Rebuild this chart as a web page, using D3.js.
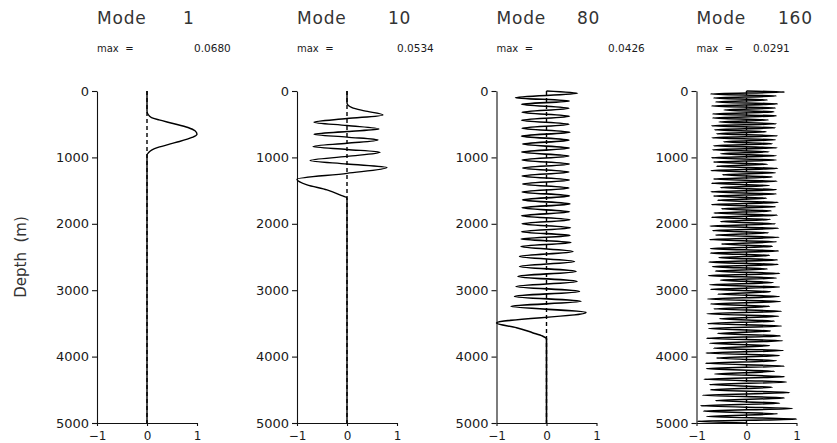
<!DOCTYPE html>
<html><head><meta charset="utf-8">
<script src="https://cdn.jsdelivr.net/npm/d3@7"></script>
<style>
html,body{margin:0;padding:0;background:#fff;}
svg text{font-family:"DejaVu Sans",sans-serif;fill:#1a1a1a;}
</style></head>
<body>
<svg id="chart" width="837" height="443"></svg>
<script>
// ---------------- data ----------------
const modeNumbers = ["1", "10", "80", "160"];
const maxValues = ["0.0680", "0.0534", "0.0426", "0.0291"];
const yTickValues = [0, 1000, 2000, 3000, 4000, 5000];
const xTickValues = [-1, 0, 1];
const xTickLabels = ["\u22121", "0", "1"];

const mode1Depth = [0, 200, 300, 350, 400, 436, 486, 550, 600, 651, 700, 761, 800, 850, 887, 930, 962, 1000, 1100, 5000];
const mode1Amp   = [0, 0, 0, 0.02, 0.09, 0.24, 0.5, 0.82, 0.96, 1.0, 0.9, 0.65, 0.45, 0.22, 0.1, 0.03, 0.0, 0, 0, 0];

const mode10Depth = [0, 150, 180, 250, 300, 360, 415, 470, 520, 571, 611, 651, 694, 737, 787, 837, 880, 922, 985, 1048, 1100, 1153, 1240, 1328, 1413, 1489, 1564, 1614, 1700, 5000];
const mode10Amp   = [0, 0, 0, 0.1, 0.35, 0.72, 0, -0.66, 0, 0.64, 0, -0.66, 0, 0.62, 0, -0.68, 0, 0.66, 0, -0.74, 0, 0.8, 0, -1.0, -0.8, -0.4, -0.14, 0, 0, 0];

const mode80Depth = [0, 35, 100, 150, 200, 260, 320, 380, 440, 500, 560, 620, 680, 740, 800, 860, 920, 980, 1040, 1100, 1160, 1220, 1280, 1340, 1400, 1460, 1520, 1580, 1640, 1700, 1760, 1820, 1880, 1940, 2000, 2060, 2120, 2175, 2230, 2281, 2341, 2416, 2492, 2567, 2642, 2717, 2792, 2868, 2943, 3018, 3093, 3168, 3243, 3334, 3494, 3564, 3640, 3690, 3730, 5000];
const mode80Amp   = [0, 0.62, -0.62, 0.46, -0.50, 0.45, -0.49, 0.46, -0.50, 0.45, -0.49, 0.47, -0.50, 0.45, -0.48, 0.46, -0.50, 0.45, -0.49, 0.46, -0.48, 0.45, -0.49, 0.46, -0.48, 0.45, -0.49, 0.46, -0.48, 0.47, -0.49, 0.46, -0.50, 0.47, -0.49, 0.48, -0.50, 0.47, -0.51, 0.49, -0.51, 0.53, -0.54, 0.56, -0.54, 0.59, -0.57, 0.61, -0.61, 0.66, -0.64, 0.69, -0.71, 0.79, -1.0, -0.6, -0.28, -0.08, 0, 0];

const mode160Depth = [0,
  15, 45, 75, 105, 135, 165, 195, 225, 255, 285, 315, 345, 375, 405, 435, 465, 495, 525, 555, 585, 615, 645, 675, 705, 735, 765, 795, 825, 855, 885, 915, 945, 975,
  1007, 1039, 1071, 1103, 1135, 1167, 1199, 1231, 1263, 1295, 1327, 1359, 1391, 1423, 1455, 1487, 1519, 1551, 1583, 1615, 1647, 1679, 1711, 1743, 1775, 1807, 1839, 1871, 1903, 1935, 1967,
  2000, 2034, 2068, 2102, 2136, 2170, 2204, 2238, 2272, 2306, 2340, 2374, 2408, 2442, 2476, 2510, 2544, 2578, 2612, 2646, 2680, 2714, 2748, 2782, 2816, 2850, 2884, 2918, 2952, 2986,
  3022, 3059, 3096, 3133, 3170, 3207, 3244, 3281, 3318, 3355, 3392, 3429, 3466, 3503, 3540, 3577, 3614, 3651, 3688, 3725, 3762, 3799, 3836, 3873, 3910, 3947, 3984,
  4022, 4062, 4102, 4142, 4182, 4222, 4262, 4302, 4342, 4382, 4422, 4462, 4502, 4542, 4582, 4622, 4662, 4702, 4742, 4782, 4822, 4862, 4902, 4942, 4975,
  5000];
const mode160Amp = [0,
  0.76, -0.72, 0.60, -0.66, 0.42, -0.62, 0.62, -0.70, 0.58, -0.45, 0.55, -0.68, 0.60, -0.68, 0.44, -0.55, 0.60, -0.70, 0.58, -0.64, 0.40, -0.60, 0.62, -0.69, 0.58, -0.46, 0.52, -0.66, 0.61, -0.68, 0.45, -0.52, 0.60,
  -0.70, 0.60, -0.66, 0.42, -0.60, 0.62, -0.71, 0.58, -0.48, 0.52, -0.66, 0.61, -0.70, 0.46, -0.52, 0.60, -0.71, 0.60, -0.66, 0.40, -0.58, 0.63, -0.70, 0.58, -0.50, 0.50, -0.65, 0.62, -0.70, 0.48, -0.52,
  0.58, -0.73, 0.64, -0.68, 0.44, -0.62, 0.65, -0.74, 0.60, -0.50, 0.52, -0.72, 0.64, -0.72, 0.46, -0.55, 0.62, -0.75, 0.63, -0.68, 0.42, -0.62, 0.66, -0.76, 0.60, -0.52, 0.54, -0.74, 0.66, -0.72,
  0.48, -0.58, 0.66, -0.78, 0.68, -0.72, 0.46, -0.66, 0.70, -0.79, 0.64, -0.54, 0.56, -0.78, 0.70, -0.76, 0.48, -0.58, 0.68, -0.80, 0.72, -0.74, 0.46, -0.66, 0.74, -0.81, 0.66,
  -0.60, 0.60, -0.82, 0.76, -0.80, 0.56, -0.64, 0.76, -0.85, 0.80, -0.74, 0.52, -0.72, 0.86, -0.88, 0.76, -0.62, 0.66, -0.92, 0.92, -0.86, 0.62, -0.80, 1.0, -0.98,
  0];

// ---------------- layout ----------------
const panelLeft = [97, 297, 496.5, 696.5];
const panelWidth = 100;
const yTop = 91, yBottom = 423;
const numberX = [183, 388, 577, 778];
const maxValX = [194, 397, 608, 753];
const strokeW = [1.4, 1.4, 1.6, 1.5];

const profiles = [
  [mode1Depth, mode1Amp],
  [mode10Depth, mode10Amp],
  [mode80Depth, mode80Amp],
  [mode160Depth, mode160Amp]
];

const svg = d3.select("#chart");

const y = d3.scaleLinear().domain([0, 5000]).range([yTop, yBottom]);

// y-axis label
svg.append("text")
  .attr("transform", `translate(26,${(yTop + yBottom) / 2}) rotate(-90)`)
  .attr("text-anchor", "middle")
  .style("font-size", "15px")
  .style("fill", "#333")
  .style("white-space", "pre")
  .text("Depth  (m)");

profiles.forEach(([depths, amps], i) => {
  const x0 = panelLeft[i];
  const x = d3.scaleLinear().domain([-1, 1]).range([x0, x0 + panelWidth]);
  const g = svg.append("g");

  // titles
  g.append("text").attr("x", x0).attr("y", 24)
    .style("font-size", "17px").style("fill", "#333")
    .style("letter-spacing", "0.8px")
    .text("Mode");
  g.append("text").attr("x", numberX[i]).attr("y", 24)
    .style("font-size", "17px").style("fill", "#333")
    .style("letter-spacing", "0.8px")
    .text(modeNumbers[i]);
  g.append("text").attr("x", x0).attr("y", 52)
    .style("font-size", "10px")
    .style("white-space", "pre")
    .text("max  =");
  g.append("text").attr("x", maxValX[i]).attr("y", 52)
    .style("font-size", "10.5px")
    .text(maxValues[i]);

  // y axis
  const ya = g.append("g").attr("transform", `translate(${x0},0)`)
    .call(d3.axisLeft(y).tickValues(yTickValues).tickFormat(d3.format("d"))
      .tickSize(5).tickSizeOuter(0).tickPadding(3));
  ya.selectAll("text").style("font-size", "13px")
    .attr("fill", "#1a1a1a").style("font-family", "'DejaVu Sans',sans-serif");

  // x axis
  const xa = g.append("g").attr("transform", `translate(0,${yBottom})`)
    .call(d3.axisBottom(x).tickValues(xTickValues)
      .tickFormat((d, k) => xTickLabels[k])
      .tickSize(3).tickSizeOuter(0).tickPadding(5));
  xa.selectAll("text").style("font-size", "12px")
    .attr("fill", "#1a1a1a").style("font-family", "'DejaVu Sans',sans-serif");
  g.selectAll(".domain, .tick line").attr("stroke", "#111").attr("stroke-width", 1.1);

  // dashed zero reference
  g.append("line")
    .attr("x1", x(0)).attr("x2", x(0))
    .attr("y1", y(0)).attr("y2", y(5000))
    .attr("stroke", "#000").attr("stroke-width", 1.4)
    .attr("stroke-dasharray", "4,3");

  // profile
  const pts = depths.map((d, k) => [amps[k], d]);
  const line = d3.line()
    .x(p => x(p[0])).y(p => y(p[1]))
    .curve(d3.curveMonotoneY);
  g.append("path").datum(pts)
    .attr("d", line)
    .attr("fill", "none")
    .attr("stroke", "#000")
    .attr("stroke-width", strokeW[i])
    .attr("stroke-linejoin", "miter");
});
</script>
</body></html>
